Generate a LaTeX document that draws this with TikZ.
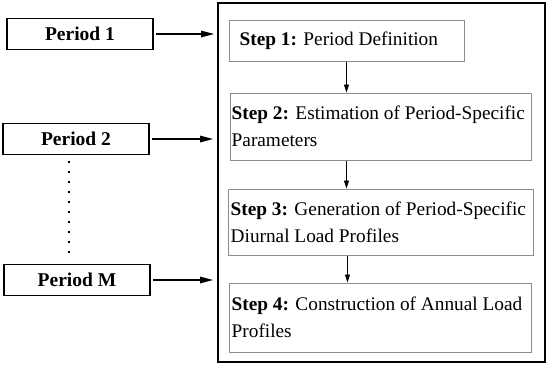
\documentclass[tikz,border=0pt]{standalone}
\usepackage{fontspec}
\setmainfont{Liberation Serif}
\usetikzlibrary{arrows.meta}
\tikzset{
  frame/.style={draw, line width=1.8pt, inner sep=0pt},
  periodbox/.style={draw, line width=1.5pt, minimum width=146pt, minimum height=31pt, inner sep=0pt, font=\fontsize{19.5}{27}\selectfont\bfseries},
  stepbox/.style={draw=black!45, line width=1pt, inner sep=0pt},
  steptext/.style={inner sep=0pt, align=left, font=\fontsize{19.3}{27}\selectfont},
  bigarrow/.style={line width=1.3pt, -{Triangle[length=13pt,width=6.5pt]}},
  smallarrow/.style={line width=0.8pt, -{Triangle[length=8pt,width=5pt]}},
  dots/.style={line width=2pt, dash pattern=on 2pt off 8pt}
}
\begin{document}
\begin{tikzpicture}[x=1pt,y=-1pt]
\useasboundingbox (0,0) rectangle (550,368);
\node[frame, minimum width=327pt, minimum height=359pt] (frame) at (381.5,182.5) {};
\node[periodbox] (p1) at (80,34) {Period 1};
\node[periodbox] (p2) at (76,139) {Period 2};
\node[periodbox] (pm) at (77,280) {Period M};
\node[stepbox, minimum width=235pt, minimum height=41pt] (s1) at (346.5,40.5) {};
\node[stepbox, minimum width=301pt, minimum height=67pt] (s2) at (380.5,126.5) {};
\node[stepbox, minimum width=305pt, minimum height=66pt] (s3) at (380.5,222) {};
\node[stepbox, minimum width=302pt, minimum height=69pt] (s4) at (380,317.5) {};
\node[steptext, anchor=west] (t1) at ([xshift=11pt]s1.west) {\textbf{Step 1:} Period Definition};
\node[steptext, anchor=west] (t2) at ([xshift=2pt]s2.west) {\textbf{Step 2:} Estimation of Period-Specific\\Parameters};
\node[steptext, anchor=west] (t3) at ([xshift=3pt]s3.west) {\textbf{Step 3:} Generation of Period-Specific\\Diurnal Load Profiles};
\node[steptext, anchor=west] (t4) at ([xshift=3pt]s4.west) {\textbf{Step 4:} Construction of Annual Load\\Profiles};
\draw[bigarrow] ([xshift=2pt]p1.east) -- ([xshift=-3pt]frame.west |- p1.east);
\draw[bigarrow] ([xshift=2pt]p2.east) -- ([xshift=-4pt]frame.west |- p2.east);
\draw[bigarrow] ([xshift=2pt]pm.east) -- ([xshift=-4pt]frame.west |- pm.east);
\draw[smallarrow] (s1.south) -- (s2.north -| s1.south);
\draw[smallarrow] (s2.south -| s1.south) -- (s3.north -| s1.south);
\draw[smallarrow] ([xshift=1pt]s3.south -| s1.south) -- ([xshift=1pt]s4.north -| s1.south);
\draw[dots] ([xshift=-7pt,yshift=-6pt]p2.south) -- ([xshift=-8pt,yshift=11pt]pm.north);
\end{tikzpicture}
\end{document}
